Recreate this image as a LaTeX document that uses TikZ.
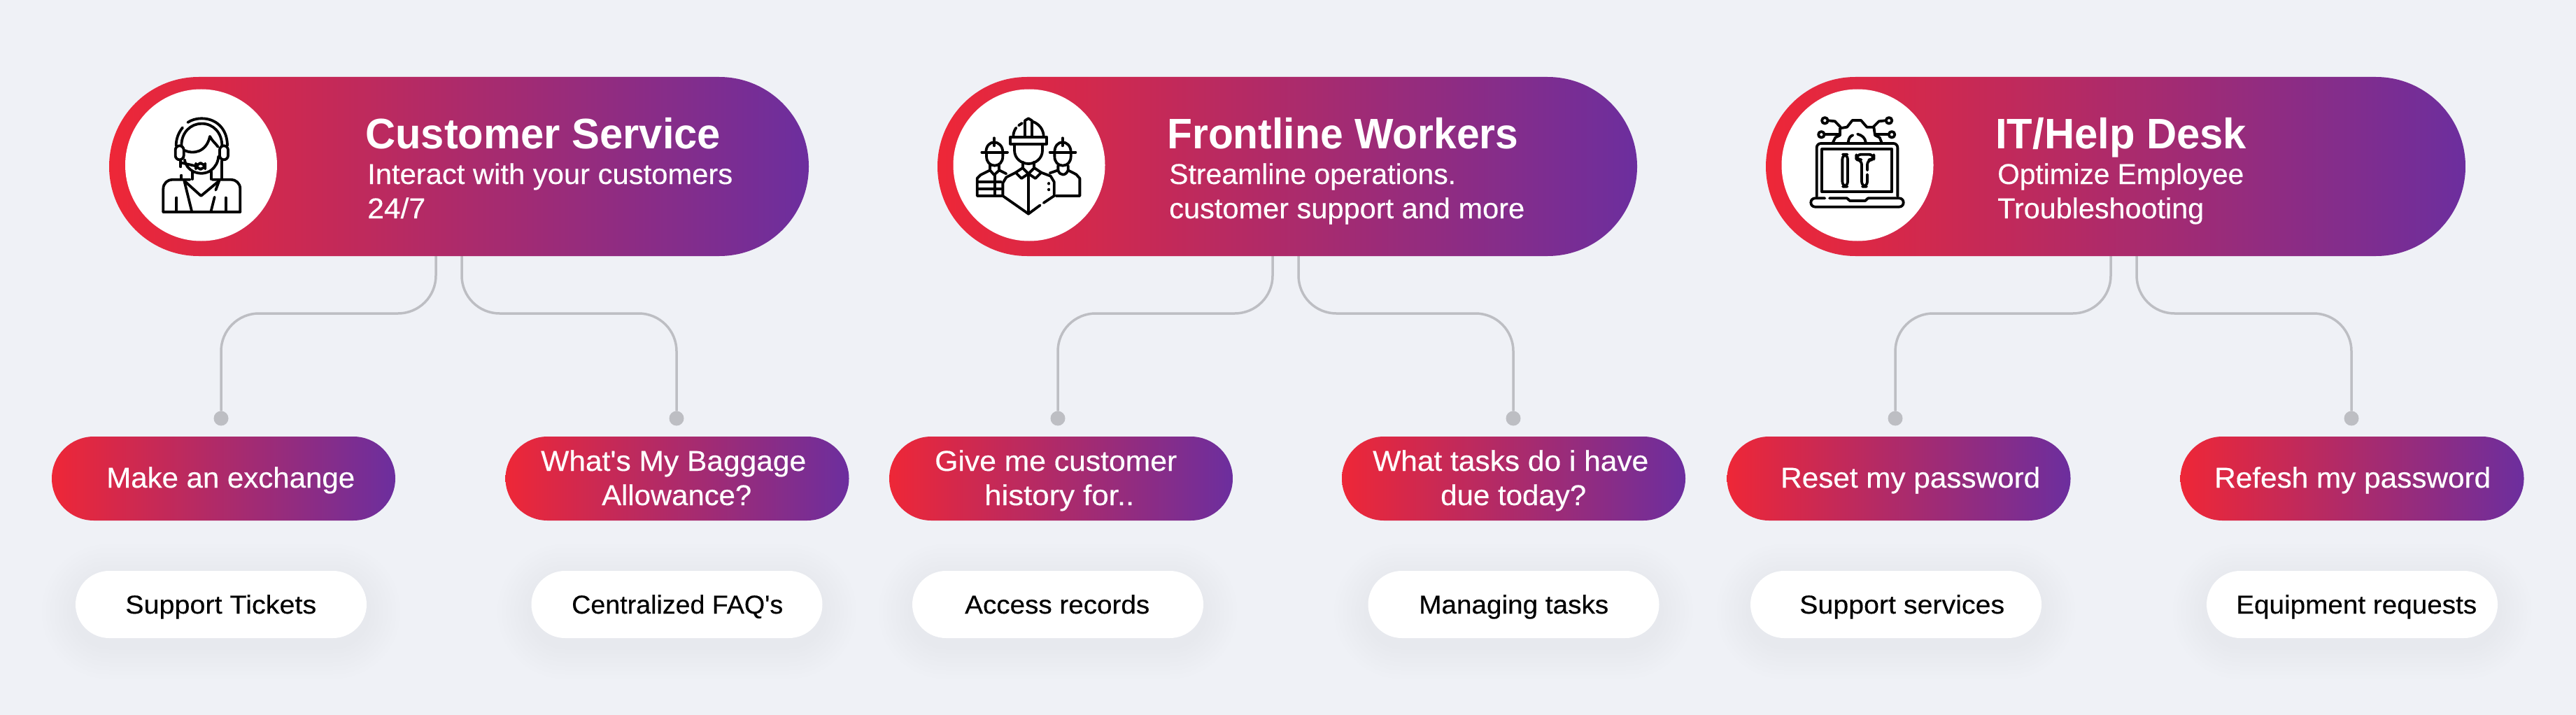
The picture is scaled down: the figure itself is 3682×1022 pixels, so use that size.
\documentclass[tikz,border=0pt]{standalone}
\usepackage{fontspec}
\usepackage{graphicx}
\setmainfont{Liberation Sans}[UprightFeatures={FakeBold=0.35}]
\definecolor{bgc}{RGB}{239,241,246}
\definecolor{gleft}{RGB}{238,39,55}
\definecolor{gright}{RGB}{108,46,158}
\definecolor{linec}{RGB}{189,190,195}
\definecolor{shadowc}{RGB}{205,207,222}
\newcommand{\tw}[2]{\resizebox{#1pt}{\height}{#2}}
\newcommand{\softpill}[2]{%
  \foreach \e in {6,12,...,48}{
    \fill[shadowc,opacity=.028,rounded corners=48pt+\e pt]
      (#1-208-\e,#2-48-\e+10) rectangle (#1+208+\e,#2+48+\e+10);
  }}
\tikzset{
  hdr/.style={rectangle,inner sep=0pt,outer sep=0pt,minimum width=1000pt,minimum height=256pt,rounded corners=128pt,left color=gleft,right color=gright},
  gpill/.style={rectangle,inner sep=0pt,outer sep=0pt,minimum width=491pt,minimum height=120pt,rounded corners=60pt,left color=gleft,right color=gright},
  wpill/.style={rectangle,inner sep=0pt,outer sep=0pt,minimum width=416pt,minimum height=96pt,rounded corners=48pt,fill=white},
  disc/.style={circle,inner sep=0pt,outer sep=0pt,minimum size=217pt,fill=white},
  conn/.style={draw=linec,line width=3.5pt,rounded corners=54pt},
  dotn/.style={circle,inner sep=0pt,outer sep=0pt,minimum size=21pt,fill=linec},
  ttl/.style={anchor=base west,inner sep=0pt,text=white,font=\fontsize{61}{61}\selectfont\bfseries},
  sub/.style={anchor=base west,inner sep=0pt,text=white,font=\fontsize{41}{41}\selectfont},
  blk/.style={anchor=base west,inner sep=0pt,text=black,font=\fontsize{37}{37}\selectfont},
  ic/.style={draw=black,line width=3.8pt,line cap=round,line join=round},
  icon/.style={x=.33333pt,y=-.33333pt}
}
\begin{document}
\begin{tikzpicture}[x=1pt,y=-1pt]
\useasboundingbox (0,0) rectangle (3682,1022);
\fill[bgc] (0,0) rectangle (3682,1022);
% shadows
\softpill{316}{864}\softpill{967.5}{864}\softpill{1512}{864}\softpill{2163.5}{864}\softpill{2710}{864}\softpill{3362}{864}
% anchor coordinates
\coordinate (m) at (0,448);
\coordinate (c1a) at (623,366);\coordinate (c1b) at (660,366);
\coordinate (c2a) at (1819,366);\coordinate (c2b) at (1856,366);
\coordinate (c3a) at (3017,366);\coordinate (c3b) at (3054,366);
\node[dotn] (d1a) at (316,598) {};\node[dotn] (d1b) at (967,598) {};
\node[dotn] (d2a) at (1512,598) {};\node[dotn] (d2b) at (2163,598) {};
\node[dotn] (d3a) at (2709,598) {};\node[dotn] (d3b) at (3361,598) {};
\foreach \s in {1a,1b,2a,2b,3a,3b}{
  \draw[conn] (c\s) -- (c\s |- m) -- (d\s |- m) -- (d\s);
}
% headers
\node[hdr] (h1) at (656,238) {};
\node[hdr] (h2) at (1840,238) {};
\node[hdr] (h3) at (3024,238) {};
\node[disc] (o1) at (287.5,236) {};
\node[disc] (o2) at (1471,236) {};
\node[disc] (o3) at (2655,236) {};
\node[ttl] (t1) at (522,212) {\tw{508}{Customer Service}};
\node[sub] (s1a) at (525,263) {\tw{522}{Interact with your customers}};
\node[sub] (s1b) at (525,312) {\tw{83}{24/7}};
\node[ttl] (t2) at (1668,212) {\tw{502}{Frontline Workers}};
\node[sub] (s2a) at (1671,263) {\tw{410}{Streamline operations.}};
\node[sub] (s2b) at (1671,312) {\tw{508}{customer support and more}};
\node[ttl] (t3) at (2852,212) {\tw{359}{IT/Help Desk}};
\node[sub] (s3a) at (2855,263) {\tw{352}{Optimize Employee}};
\node[sub] (s3b) at (2855,312) {\tw{295}{Troubleshooting}};
% gradient pills
\node[gpill] (p1a) at (319.5,684) {};
\node[gpill] (p1b) at (968,684) {};
\node[gpill] (p2a) at (1516.5,684) {};
\node[gpill] (p2b) at (2163.5,684) {};
\node[gpill] (p3a) at (2714,684) {};
\node[gpill] (p3b) at (3362,684) {};
\node[sub] (q1) at (152,697) {\tw{355}{Make an exchange}};
\node[sub] (q2) at (773,673) {\tw{379}{What\textquotesingle s My Baggage}};
\node[sub] (q3) at (860,722) {\tw{214}{Allowance?}};
\node[sub] (q4) at (1336,673) {\tw{346}{Give me customer}};
\node[sub] (q5) at (1407,722) {\tw{214}{history for..}};
\node[sub] (q6) at (1962,673) {\tw{394}{What tasks do i have}};
\node[sub] (q7) at (2059,722) {\tw{208}{due today?}};
\node[sub] (q8) at (2545,697) {\tw{371}{Reset my password}};
\node[sub] (q9) at (3165,697) {\tw{395}{Refesh my password}};
% white pills
\node[wpill] (w1a) at (316,864) {};
\node[wpill] (w1b) at (967.5,864) {};
\node[wpill] (w2a) at (1512,864) {};
\node[wpill] (w2b) at (2163.5,864) {};
\node[wpill] (w3a) at (2710,864) {};
\node[wpill] (w3b) at (3362,864) {};
\node[blk] (b1) at (179,877) {\tw{273}{Support Tickets}};
\node[blk] (b2) at (817,877) {\tw{302}{Centralized FAQ\textquotesingle s}};
\node[blk] (b3) at (1379,877) {\tw{264}{Access records}};
\node[blk] (b4) at (2028,877) {\tw{271}{Managing tasks}};
\node[blk] (b5) at (2572,877) {\tw{293}{Support services}};
\node[blk] (b6) at (3196,877) {\tw{344}{Equipment requests}};
% icon: agent
\begin{scope}[shift={(200,130)},icon]
  \draw[ic] (375,235) .. controls (375,160) and (325,118) .. (265,118) .. controls (240,118) and (220,125) .. (205,135);
  \draw[ic] (183,157) .. controls (165,180) and (155,205) .. (155,235);
  \draw[ic] (178,235) .. controls (178,175) and (220,140) .. (265,140) .. controls (315,140) and (352,180) .. (352,235);
  \draw[ic,rounded corners=6pt] (152,235) rectangle (188,295);
  \draw[ic,rounded corners=6pt] (342,235) rectangle (378,295);
  \draw[ic] (192,255) .. controls (225,272) and (285,265) .. (300,195) .. controls (310,215) and (325,225) .. (335,240);
  \draw[ic] (192,295) .. controls (195,320) and (210,335) .. (228,345) .. controls (255,358) and (285,355) .. (305,340) .. controls (325,325) and (335,305) .. (337,280);
  \draw[ic] (178,308) -- (240,322);
  \draw[ic,rounded corners=8pt] (240,310) rectangle (280,335);
  \draw[ic] (175,297) -- (175,325) (178,362) -- (178,375);
  \draw[ic] (352,300) -- (352,375);
  \draw[ic] (225,345) -- (225,378) (305,345) -- (305,378);
  \draw[ic] (100,518) -- (430,518);
  \draw[ic] (100,518) -- (100,420) .. controls (100,395) and (120,380) .. (140,380) -- (215,380);
  \draw[ic] (430,518) -- (430,420) .. controls (430,395) and (410,380) .. (390,380) -- (310,380);
  \draw[ic] (190,385) -- (262,450) -- (340,385);
  \draw[ic] (190,385) -- (222,515) (325,425) -- (340,385) (305,515) -- (320,455);
  \draw[ic] (157,458) -- (157,515) (368,458) -- (368,515);
\end{scope}
% icon: workers
\begin{scope}[shift={(1380,140)},icon]
  \draw[ic] (193,167) rectangle (348,197);
  \draw[ic] (205,165) .. controls (205,150) and (210,138) .. (217,128);
  \draw[ic] (228,118) -- (243,108);
  \draw[ic] (255,165) -- (255,97) -- (270,88) -- (285,97) -- (285,165);
  \draw[ic] (285,100) .. controls (315,110) and (335,135) .. (335,165);
  \draw[ic] (210,197) -- (210,225) .. controls (210,260) and (240,282) .. (270,282) .. controls (300,282) and (330,260) .. (330,225) -- (330,197);
  \draw[ic] (245,275) -- (245,300) (295,275) -- (295,300);
  \draw[ic] (215,320) -- (245,300) -- (270,325) -- (240,345) -- cycle;
  \draw[ic] (270,325) -- (295,300) -- (325,320) -- (300,345) -- cycle;
  \draw[ic] (215,320) -- (175,340) -- (160,365) -- (160,420) -- (270,497) -- (320,460);
  \draw[ic] (335,450) -- (380,420) -- (380,360) -- (365,335) -- (325,320);
  \draw[ic] (270,325) -- (270,497);
  \draw[ic] (358,366) -- (358,368) (358,392) -- (358,394);
  \draw[ic] (70,233) -- (180,233);
  \draw[ic] (88,233) .. controls (88,205) and (105,190) .. (123,190) .. controls (141,190) and (160,205) .. (160,233);
  \draw[ic] (123,172) -- (123,205);
  \draw[ic] (90,233) -- (90,250) .. controls (90,275) and (105,290) .. (125,290) .. controls (145,290) and (160,275) .. (160,250) -- (160,233);
  \draw[ic] (105,288) -- (105,310) (145,288) -- (145,310);
  \draw[ic] (175,325) -- (145,310) -- (123,330) -- (105,310) -- (65,330) -- (50,345) -- (50,420) -- (155,420);
  \draw[ic] (55,360) -- (152,360) (55,390) -- (152,390) (125,330) -- (125,420);
  \draw[ic] (362,233) -- (472,233);
  \draw[ic] (382,233) .. controls (382,205) and (398,190) .. (416,190) .. controls (434,190) and (452,205) .. (452,233);
  \draw[ic] (416,172) -- (416,205);
  \draw[ic] (382,233) -- (382,250) .. controls (382,275) and (397,290) .. (417,290) .. controls (437,290) and (452,275) .. (452,250) -- (452,233);
  \draw[ic] (397,290) -- (397,310) .. controls (405,335) and (430,335) .. (440,310) -- (440,290);
  \draw[ic] (362,322) -- (397,310) (440,310) -- (475,328) -- (490,345) -- (490,420) -- (388,420);
\end{scope}
% icon: IT laptop
\begin{scope}[shift={(2560,140)},icon]
  \draw[ic,rounded corners=6pt] (110,422) -- (110,195) -- (457,195) -- (457,422);
  \draw[ic] (133,220) rectangle (433,403);
  \draw[ic,rounded corners=6pt] (145,430) -- (85,430) -- (85,467) -- (482,467) -- (482,430) -- (330,430);
  \draw[ic] (165,430) -- (240,430) -- (252,441) -- (318,441) -- (330,430);
  \draw[ic,rounded corners=7pt] (220,242) rectangle (243,380);
  \draw[ic,rounded corners=7pt] (327,310) -- (327,265) -- (355,265) -- (355,242) -- (280,242) -- (280,265) -- (303,265) -- (303,380) -- (327,380) -- (327,328);
  \draw[ic] (180,190) -- (190,170) -- (210,160) -- (210,130) -- (240,125) -- (263,96) -- (300,96) -- (325,125) -- (355,125) -- (360,160) -- (380,170) -- (388,190);
  \draw[ic] (245,190) .. controls (247,172) and (255,162) .. (265,160);
  \draw[ic] (285,155) .. controls (305,160) and (318,172) .. (320,190);
  \draw[ic] (145,97) circle[radius=4.3pt];
  \draw[ic] (130,157) circle[radius=4.3pt];
  \draw[ic] (420,97) circle[radius=4.3pt];
  \draw[ic] (432,157) circle[radius=4.3pt];
  \draw[ic] (160,97) -- (188,100) -- (212,125);
  \draw[ic] (145,157) -- (205,157);
  \draw[ic] (405,97) -- (377,100) -- (352,125);
  \draw[ic] (365,157) -- (418,157);
\end{scope}
\end{tikzpicture}
\end{document}
